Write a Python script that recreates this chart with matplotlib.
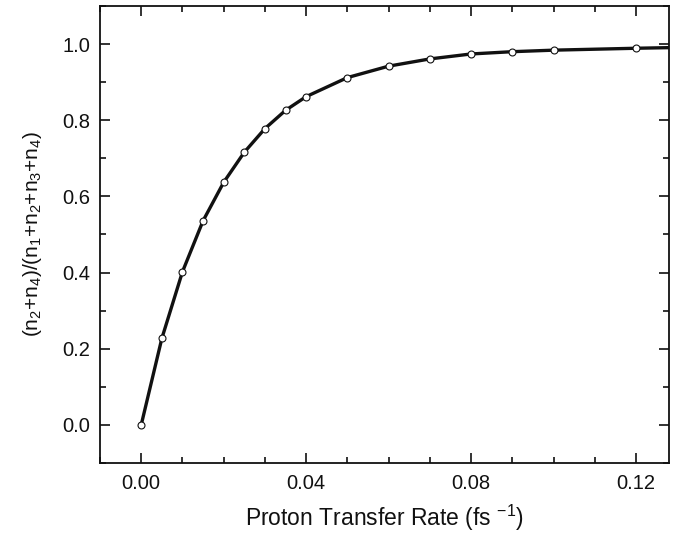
import matplotlib

matplotlib.use("Agg")
import matplotlib.pyplot as plt  # noqa: E402
from matplotlib.ticker import MultipleLocator  # noqa: E402

# proton transfer rate (fs^-1) and population fraction
rate = [0.0, 0.005, 0.01, 0.015, 0.02, 0.025, 0.03, 0.035, 0.04,
        0.05, 0.06, 0.07, 0.08, 0.09, 0.10, 0.12, 0.14]
fraction = [0.0, 0.227, 0.402, 0.536, 0.637, 0.716, 0.778, 0.826, 0.862,
            0.912, 0.942, 0.961, 0.974, 0.980, 0.984, 0.989, 0.993]

x_ticks = [0.00, 0.04, 0.08, 0.12]
y_ticks = [0.0, 0.2, 0.4, 0.6, 0.8, 1.0]

plt.rcParams["font.family"] = ["Liberation Sans", "DejaVu Sans"]
plt.rcParams["mathtext.fontset"] = "custom"
plt.rcParams["mathtext.rm"] = "Liberation Sans"
plt.rcParams["mathtext.it"] = "Liberation Sans"
plt.rcParams["mathtext.default"] = "regular"

fig = plt.figure(figsize=(6.82, 5.34), dpi=100)
ax = fig.add_axes([0.1466, 0.133, 0.8344, 0.8558])

ax.plot(rate, fraction, color="#111111", lw=2.4, marker="o", ms=5,
        mfc="white", mec="#111111", mew=0.8, clip_on=True, zorder=3)

ax.set_xlim(-0.01, 0.128)
ax.set_ylim(-0.1, 1.1)
ax.set_xticks(x_ticks)
ax.set_xticklabels([f"{v:.2f}" for v in x_ticks])
ax.set_yticks(y_ticks)
ax.set_yticklabels([f"{v:.1f}" for v in y_ticks])
ax.xaxis.set_minor_locator(MultipleLocator(0.01))
ax.yaxis.set_minor_locator(MultipleLocator(0.1))

ax.tick_params(which="both", direction="in", top=True, right=True,
               width=1.2, labelsize=14.5, colors="#111111")
ax.tick_params(which="major", length=7)
ax.tick_params(which="minor", length=4)
ax.tick_params(axis="x", pad=8)
ax.tick_params(axis="y", pad=7)
for spine in ax.spines.values():
    spine.set_linewidth(1.3)
    spine.set_color("#111111")

ax.set_xlabel(r"Proton Transfer Rate (fs $^{-1}$)", fontsize=16.5,
              color="#111111", labelpad=7)
ax.set_ylabel(r"(n$_2$+n$_4$)/(n$_1$+n$_2$+n$_3$+n$_4$)", fontsize=15,
              color="#111111", labelpad=13)

fig.savefig("out.png", dpi=100, facecolor="white")
